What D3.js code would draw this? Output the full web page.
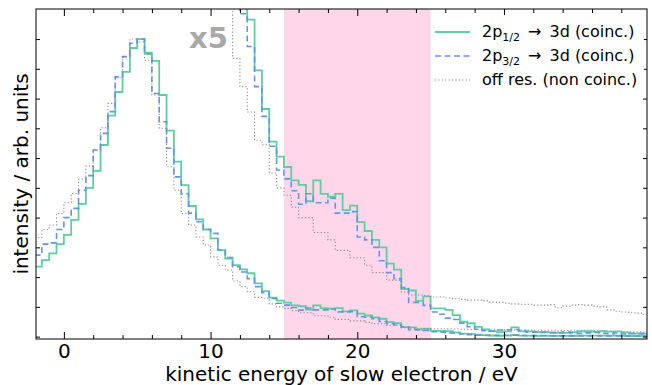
<!DOCTYPE html>
<html>
<head>
<meta charset="utf-8">
<script src="https://cdn.jsdelivr.net/npm/d3@7"></script>
<style>
body { margin: 0; background: #fff; }
svg { font-family: "DejaVu Sans", sans-serif; }
</style>
</head>
<body>
<div id="chart"></div>
<script>
// histogram bins: 0.5 eV wide, first bin starts at -2 eV
var binStart = -2,
binWidth = 0.5;

// 2p1/2 -> 3d (coinc.)
var green = [
0.235, 0.257, 0.280, 0.311, 0.342, 0.392, 0.446, 0.500,
0.557, 0.644, 0.743, 0.822, 0.890, 0.970, 1.000, 0.954,
0.927, 0.812, 0.692, 0.588, 0.509, 0.439, 0.394, 0.360,
0.330, 0.291, 0.262, 0.240, 0.226, 0.213, 0.179, 0.153,
0.131, 0.121, 0.114, 0.105, 0.102, 0.091, 0.105, 0.096,
0.094, 0.096, 0.085, 0.088, 0.077, 0.071, 0.065, 0.060,
0.049, 0.045, 0.032, 0.031, 0.024, 0.027, 0.019, 0.019,
0.018, 0.0145, 0.010, 0.009, 0.0066, 0.0048, 0.0037, 0.0030,
0.0035, 0.0062, 0.0035, 0.0035, 0.0030, 0.0032, 0.0028, 0.0026,
0.0025, 0.0030, 0.0036, 0.0036, 0.0034, 0.0036, 0.0033, 0.0035,
0.0028, 0.0020, 0.0020, 0.0020
];

// 2p3/2 -> 3d (coinc.)
var blue = [
0.274, 0.311, 0.315, 0.360, 0.400, 0.431, 0.492, 0.541,
0.627, 0.683, 0.756, 0.873, 0.941, 0.986, 1.000, 0.950,
0.817, 0.722, 0.633, 0.537, 0.480, 0.415, 0.386, 0.360,
0.347, 0.291, 0.266, 0.235, 0.217, 0.195, 0.168, 0.148,
0.128, 0.112, 0.106, 0.098, 0.089, 0.096, 0.090, 0.090,
0.093, 0.083, 0.083, 0.084, 0.067, 0.065, 0.060, 0.051,
0.043, 0.039, 0.033, 0.023, 0.023, 0.021, 0.0165, 0.0150,
0.0124, 0.0115, 0.0090, 0.0066, 0.0050, 0.0040, 0.0037, 0.0044,
0.0046, 0.0048, 0.0040, 0.0030, 0.0032, 0.0028, 0.0025, 0.0026,
0.0030, 0.0024, 0.0022, 0.0025, 0.0028, 0.0022, 0.0020, 0.0024,
0.0018, 0.0022, 0.0020, 0.0018
];

// off res. (non coinc.)
var gray = [
0.333, 0.360, 0.375, 0.414, 0.450, 0.481, 0.529, 0.573,
0.627, 0.702, 0.784, 0.870, 0.941, 1.000, 0.990, 0.929,
0.812, 0.700, 0.571, 0.492, 0.414, 0.375, 0.335, 0.308,
0.268, 0.240, 0.224, 0.187, 0.168, 0.151, 0.132, 0.129,
0.110, 0.100, 0.095, 0.087, 0.080, 0.080, 0.070, 0.070,
0.065, 0.058, 0.058, 0.053, 0.053, 0.048, 0.043, 0.043,
0.038, 0.038, 0.030, 0.028, 0.028, 0.0275, 0.0266, 0.0266,
0.0260, 0.0255, 0.0250, 0.0245, 0.0245, 0.0240, 0.0232, 0.0230,
0.0225, 0.0220, 0.0218, 0.0218, 0.0212, 0.0212, 0.0215, 0.0194,
0.0205, 0.0212, 0.0215, 0.0212, 0.0205, 0.0200, 0.0180, 0.0171,
0.0165, 0.0160, 0.0158, 0.0150
];

var scaleFactor = 5;
var window1 = [15, 25];   // shaded energy window
var xMajor = [0, 10, 20, 30],
xMinor = [2, 4, 6, 8, 12, 14, 16, 18, 22, 24, 26, 28, 32, 34, 36, 38],
yTicks = [0, 0.1, 0.2, 0.3, 0.4, 0.5, 0.6, 0.7, 0.8, 0.9, 1.0];

var labels = [
	['2p', '1/2', '\u2002\u2192\u20023d (coinc.)'],
	['2p', '3/2', '\u2002\u2192\u20023d (coinc.)'],
	['off res. (non coinc.)', '', '']
];

var styles = [
	{name: 'green', color: '#5ccf9f', dash: null, w: 1.8},
	{name: 'blue', color: '#6495ed', dash: '6,3.5', w: 1.6},
	{name: 'gray', color: '#8a8a8a', dash: '1.2,2.2', w: 1.1}
];

//layout
var svgWidth = 652,
svgHeight = 385;

var box = {l: 36, r: 647, t: 9, b: 339};

var svg = d3.select('#chart')
	.append('svg')
	.attr('width', svgWidth)
	.attr('height', svgHeight);

var x = d3.scaleLinear().domain([-1.9, 39.75]).range([box.l, box.r]);
var y = d3.scaleLinear().domain([-0.008, 1.101]).range([box.b, box.t]);

svg.append('clipPath')
	.attr('id', 'clip')
	.append('rect')
	.attr('x', box.l)
	.attr('y', box.t)
	.attr('width', box.r - box.l)
	.attr('height', box.b - box.t);

// pink window
svg.append('rect')
	.attr('x', x(window1[0]))
	.attr('y', box.t)
	.attr('width', x(window1[1]) - x(window1[0]))
	.attr('height', box.b - box.t)
	.attr('fill', '#ffd6ea');

function steps(vals, k) {
	var pts = vals.map((v, i) => [binStart + i * binWidth, v * k]);
	pts.push([binStart + vals.length * binWidth, vals[vals.length - 1] * k]);
	return pts;
}

var line = d3.line()
	.x(d => x(d[0]))
	.y(d => y(d[1]))
	.curve(d3.curveStepAfter);

var curves = svg.append('g').attr('clip-path', 'url(#clip)');
var series = {green: green, blue: blue, gray: gray};

[1, scaleFactor].forEach(k => {
	styles.forEach(s => {
		curves.append('path')
			.attr('d', line(steps(series[s.name], k)))
			.attr('fill', 'none')
			.attr('stroke', s.color)
			.attr('stroke-width', s.w)
			.attr('stroke-dasharray', s.dash);
	});
});

svg.append('text')
	.attr('x', 189)
	.attr('y', 48)
	.attr('font-size', 29)
	.attr('font-weight', 'bold')
	.attr('fill', '#a9a9a9')
	.text('x' + scaleFactor);

// axes, ticks inward
function noDomain(g) { g.select('.domain').remove(); }

svg.append('g')
	.attr('transform', `translate(0,${box.b})`)
	.call(d3.axisBottom(x).tickValues(xMajor).tickSize(-7).tickPadding(5))
	.call(noDomain)
	.call(g => g.selectAll('text').attr('font-size', 20).attr('fill', '#000').attr('font-family', 'DejaVu Sans'));

svg.append('g')
	.attr('transform', `translate(0,${box.b})`)
	.call(d3.axisBottom(x).tickValues(xMinor).tickSize(-4).tickFormat(''))
	.call(noDomain);

svg.append('g')
	.attr('transform', `translate(0,${box.t})`)
	.call(d3.axisTop(x).tickValues(xMajor).tickSize(-7).tickFormat(''))
	.call(noDomain);

svg.append('g')
	.attr('transform', `translate(0,${box.t})`)
	.call(d3.axisTop(x).tickValues(xMinor).tickSize(-4).tickFormat(''))
	.call(noDomain);

svg.append('g')
	.attr('transform', `translate(${box.l},0)`)
	.call(d3.axisLeft(y).tickValues(yTicks).tickSize(-4).tickFormat(''))
	.call(noDomain);

svg.append('g')
	.attr('transform', `translate(${box.r},0)`)
	.call(d3.axisRight(y).tickValues(yTicks).tickSize(-4).tickFormat(''))
	.call(noDomain);

svg.selectAll('.tick line').attr('stroke', '#000');

svg.append('rect')
	.attr('x', box.l)
	.attr('y', box.t)
	.attr('width', box.r - box.l)
	.attr('height', box.b - box.t)
	.attr('fill', 'none')
	.attr('stroke', '#000')
	.attr('stroke-width', 1);

svg.append('text')
	.attr('x', (box.l + box.r) / 2)
	.attr('y', 381)
	.attr('text-anchor', 'middle')
	.attr('font-size', 20)
	.text('kinetic energy of slow electron / eV');

svg.append('text')
	.attr('transform', 'translate(28,174)rotate(-90)')
	.attr('text-anchor', 'middle')
	.attr('font-size', 20)
	.text('intensity / arb. units');

// legend
var legend = svg.append('g');
legend.append('rect')
	.attr('x', 431)
	.attr('y', 15)
	.attr('width', 213)
	.attr('height', 80)
	.attr('fill', '#fff')
	.attr('fill-opacity', 0.85);

styles.forEach((s, i) => {
	var ly = 32 + i * 24;
	legend.append('line')
		.attr('x1', 435).attr('x2', 470)
		.attr('y1', ly).attr('y2', ly)
		.attr('stroke', s.color)
		.attr('stroke-width', s.w)
		.attr('stroke-dasharray', s.dash);
	var t = legend.append('text')
		.attr('x', 482)
		.attr('y', ly + 5)
		.attr('font-size', 16);
	t.append('tspan').text(labels[i][0]);
	if (labels[i][1]) {
		t.append('tspan').attr('font-size', 11).attr('dy', 4).text(labels[i][1]);
		t.append('tspan').attr('dy', -4).text(labels[i][2]);
	}
});
</script>
</body>
</html>
